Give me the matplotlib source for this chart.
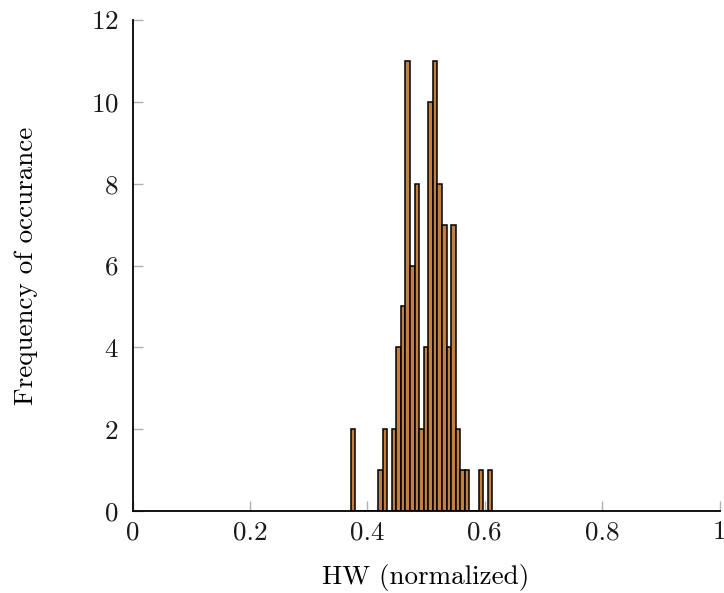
import numpy as np
import matplotlib
matplotlib.use("Agg")
import matplotlib.pyplot as plt

# Histogram data
bin_min = 0.3716
bin_max = 0.6130
counts = [2, 0, 0, 0, 0, 0, 1, 2, 0, 2, 4, 5, 11, 6, 8, 2, 4, 10, 11, 8,
          7, 4, 7, 2, 1, 1, 0, 0, 1, 0, 1]
x_ticks = [0, 0.2, 0.4, 0.6, 0.8, 1]
x_tick_labels = ["0", "0.2", "0.4", "0.6", "0.8", "1"]
y_ticks = [0, 2, 4, 6, 8, 10, 12]

plt.rcParams['font.family'] = ['cmr10', 'DejaVu Serif']
plt.rcParams['axes.formatter.use_mathtext'] = True

fig = plt.figure(figsize=(7.24, 5.93), dpi=100)
ax = fig.add_axes([132.5 / 724, (593 - 511) / 593, (719.5 - 132.5) / 724, (511 - 20) / 593])

edges = np.linspace(bin_min, bin_max, len(counts) + 1)
width = edges[1] - edges[0]
ax.bar(edges[:-1], counts, width=width, align='edge',
       color='#BF8040', edgecolor='black', linewidth=1.1)

ax.set_xlim(0, 1)
ax.set_ylim(0, 12)
ax.set_xticks(x_ticks)
ax.set_xticklabels(x_tick_labels)
ax.set_yticks(y_ticks)

for s in ['top', 'right']:
    ax.spines[s].set_visible(False)
for s in ['left', 'bottom']:
    ax.spines[s].set_linewidth(1.3)
    ax.spines[s].set_color('black')

ax.tick_params(direction='in', length=7, width=1.0, color='#b0b0b0',
               labelsize=19.5, labelcolor='#1a1a1a')
ax.tick_params(axis='x', pad=7)
ax.tick_params(axis='y', pad=10)

ax.set_xlabel('HW (normalized)', fontsize=19.5, labelpad=14)
ax.set_ylabel('Frequency of occurance', fontsize=19.5, labelpad=38)

fig.savefig('out.png', dpi=100)
